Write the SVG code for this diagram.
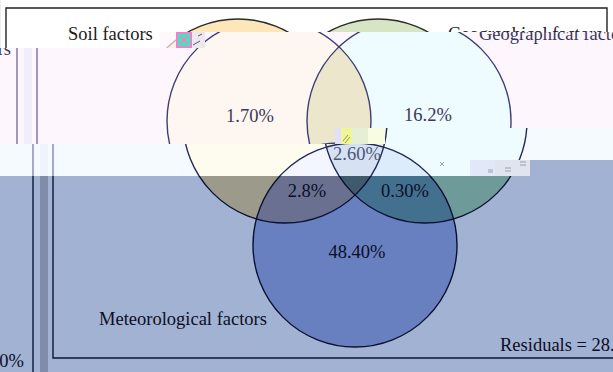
<svg xmlns="http://www.w3.org/2000/svg" xmlns:xlink="http://www.w3.org/1999/xlink" width="613" height="372" viewBox="0 0 613 372">
<style>
text{font-family:"Liberation Serif","Times New Roman",serif;font-size:18.5px;fill:var(--t)}
.bg{fill:var(--bg)}
.band{fill:var(--band)}
.fr{fill:none;stroke:var(--fr);stroke-width:1.4}
.s{fill:var(--s)}
.g{fill:var(--g)}
.m{fill:var(--m)}
.sg{fill:var(--sg)}
.sm{fill:var(--sm)}
.gm{fill:var(--gm)}
.sgm{fill:var(--sgm)}
.ol{fill:none;stroke:var(--ol);stroke-width:1.4}
#stripA{--bg:#ffffff;--band:#ececf2;--fr:#222222;--s:#fde7ba;--g:#d8e5c4;--m:#b8c6ee;--sg:#e3dcae;--sm:#c7b5a0;--gm:#a8c0c0;--sgm:#a0a8a0;--ol:#2a2a2a;--t:#1a1a1a}
#stripB{--bg:#fdf7fd;--band:#f1eefc;--fr:#7670a0;--s:#fef6f0;--g:#eefbff;--m:#e9f0ff;--sg:#ece6cc;--sm:#f0ecf0;--gm:#e0f0fa;--sgm:#dde6ee;--ol:#3e3e74;--t:#3b3858}
#stripL{--bg:#f4faff;--band:#eef4fb;--fr:#8088b0;--s:#fefcef;--g:#eefbff;--m:#e4efff;--sg:#efeed8;--sm:#f3f6ff;--gm:#dcecfb;--sgm:#d6e2f2;--ol:#22285a;--t:#4a5878}
#stripC{--bg:#a2b2d3;--band:#7f8dab;--fr:#0d1535;--s:#9c9b8b;--g:#6f9a9a;--m:#6880c0;--sg:#7a8a78;--sm:#6a7190;--gm:#44708f;--sgm:#3e5a6c;--ol:#0a1030;--t:#0a0e26}
</style>
<defs>
<clipPath id="cS"><circle cx="285" cy="121" r="102"/></clipPath>
<clipPath id="cG"><circle cx="425" cy="121" r="102"/></clipPath>
<clipPath id="clipA"><polygon points="0,0 613,0 613,32 176,32 176,48 0,48"/></clipPath>
<clipPath id="clipB"><polygon points="176,32 613,32 613,128 335,128 335,144 0,144 0,48 176,48"/></clipPath>
<clipPath id="clipL"><polygon points="335,128 613,128 613,160 530,160 530,176 0,176 0,144 335,144"/></clipPath>
<clipPath id="clipC"><polygon points="0,176 530,176 530,160 613,160 613,372 0,372"/></clipPath>
<g id="venn">
<rect class="bg" x="-60" y="0" width="740" height="372"/>
<rect class="band" x="40" y="0" width="8" height="372"/>
<line class="fr" x1="33" y1="0" x2="33" y2="372"/>
<path class="fr" d="M53,358 V8 H654 V358 Z"/>
<g id="node-soil"><circle class="s" cx="285" cy="121" r="102"/></g>
<g id="node-geo"><circle class="g" cx="425" cy="121" r="102"/></g>
<g id="node-met"><circle class="m" cx="355" cy="245" r="102"/></g>
<circle class="sg" cx="425" cy="121" r="102" clip-path="url(#cS)"/>
<circle class="sm" cx="355" cy="245" r="102" clip-path="url(#cS)"/>
<circle class="gm" cx="355" cy="245" r="102" clip-path="url(#cG)"/>
<g clip-path="url(#cS)"><circle class="sgm" cx="355" cy="245" r="102" clip-path="url(#cG)"/></g>
<circle class="ol" cx="285" cy="121" r="102"/>
<circle class="ol" cx="425" cy="121" r="102"/>
<circle class="ol" cx="355" cy="245" r="102"/>
<text x="115" y="40">Soil factors</text>
<text x="495" y="40">Geographical factors</text>
<text x="99" y="325">Meteorological factors</text>
<text x="266" y="122" text-anchor="middle">1.70%</text>
<text x="444" y="121" text-anchor="middle">16.2%</text>
<text x="357" y="160" text-anchor="middle">2.60%</text>
<text x="307" y="197" text-anchor="middle">2.8%</text>
<text x="405" y="197" text-anchor="middle">0.30%</text>
<text x="357" y="258" text-anchor="middle">48.40%</text>
<text x="500" y="351">Residuals = 28.</text>
<text x="27" y="55" text-anchor="end">rs</text>
<text x="24" y="367" text-anchor="end">0%</text>
</g>
</defs>
<g id="stripC" clip-path="url(#clipC)"><use xlink:href="#venn"/></g>
<g id="stripL" clip-path="url(#clipL)"><use xlink:href="#venn"/></g>
<g id="stripB" clip-path="url(#clipB)"><use xlink:href="#venn" transform="translate(-16,0)"/></g>
<g id="stripA" clip-path="url(#clipA)"><use xlink:href="#venn" transform="translate(-47,0)"/></g>
<g id="glitch">
<rect x="160" y="32" width="16" height="16" fill="#fdf4fb" opacity="0.7"/>
<rect x="176" y="32" width="16" height="16" fill="#f47fcf"/>
<rect x="178" y="34" width="12" height="12" fill="#3fe8b8"/>
<rect x="182" y="38" width="4" height="4" fill="#f47fcf"/>
<rect x="180" y="36" width="2" height="2" fill="#f47fcf"/>
<rect x="186" y="36" width="2" height="2" fill="#f47fcf"/>
<rect x="180" y="42" width="2" height="2" fill="#f47fcf"/>
<rect x="186" y="42" width="2" height="2" fill="#f47fcf"/>
<rect x="192" y="32" width="13" height="16" fill="#ebe8f0"/>
<path d="M193,45 L200,41 M198,36 L202,34" stroke="#555566" stroke-width="1" fill="none"/>
<rect x="335" y="128" width="6" height="16" fill="#e2e0f8"/>
<rect x="341" y="128" width="11" height="16" fill="#eef59a"/>
<path d="M343,141 L348,135 M345,143 L350,137" stroke="#9a9a30" stroke-width="1" fill="none"/>
<rect x="352" y="128" width="16" height="16" fill="#e6eed6"/>
<rect x="368" y="128" width="17" height="16" fill="#f8fce0"/>
<rect x="470" y="160" width="25" height="16" fill="#e2e8f8"/>
<rect x="495" y="160" width="35" height="16" fill="#dfe4ee"/>
<path d="M440,162 l4,4 M444,162 l-4,4 M488,170 h5 M488,172 h5 M505,168 h6 M505,171 h6 M520,162 h6 M520,165 h6" stroke="#9aa0b8" stroke-width="1" fill="none"/>
</g>
</svg>
